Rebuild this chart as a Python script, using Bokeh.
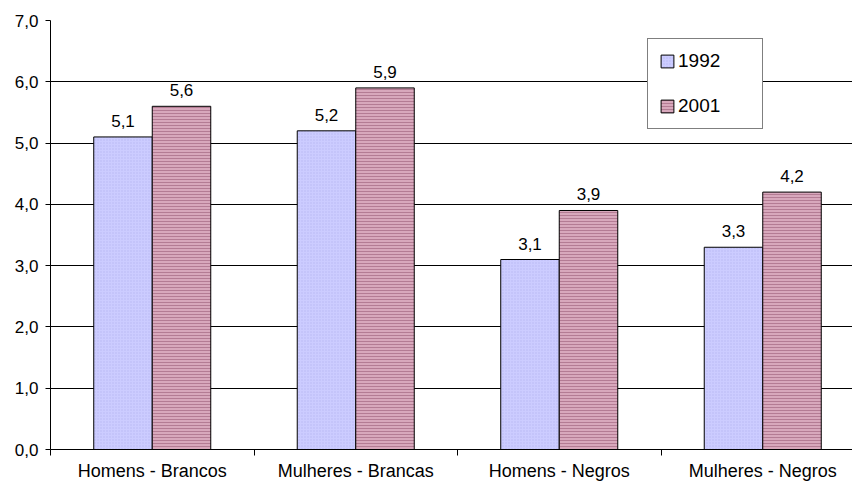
from bokeh.plotting import figure
from bokeh.models import FixedTicker, Legend, LegendItem, ColumnDataSource
from bokeh.core.properties import value
from bokeh.embed import file_html
from bokeh.resources import INLINE

categories = ["Homens - Brancos", "Mulheres - Brancas", "Homens - Negros", "Mulheres - Negros"]
series_names = ["1992", "2001"]
values_1992 = [5.1, 5.2, 3.1, 3.3]
values_2001 = [5.6, 5.9, 3.9, 4.2]
y_ticks = [0, 1, 2, 3, 4, 5, 6, 7]

FONT = "Liberation Sans"
centers = [i + 0.5 for i in range(len(categories))]
bar_w = 0.2875
off = bar_w / 2

def fmt(v):
    return f"{v:.1f}".replace(".", ",")

src1 = ColumnDataSource(dict(x=[c - off for c in centers], top=values_1992,
                             lab=[fmt(v) for v in values_1992]))
src2 = ColumnDataSource(dict(x=[c + off for c in centers], top=values_2001,
                             lab=[fmt(v) for v in values_2001]))

p = figure(width=852, height=483, x_range=(0, 3.941), y_range=(0, 7),
           output_backend="svg", toolbar_location=None,
           min_border_left=50, min_border_right=0, min_border_top=20, min_border_bottom=34)
p.outline_line_color = None
p.background_fill_color = "white"
p.border_fill_color = "white"
p.xgrid.visible = False

r1 = p.vbar(x="x", top="top", width=bar_w, source=src1, fill_color="#CCCCFF",
            line_color="black", line_width=1, hatch_pattern="dot", hatch_color="#A8A8E8",
            hatch_scale=3, hatch_weight=1, hatch_alpha=0.6)
r2 = p.vbar(x="x", top="top", width=bar_w, source=src2, fill_color="#D8A8BC",
            line_color="black", line_width=1, hatch_pattern="horizontal_line",
            hatch_color="#B07890", hatch_scale=3, hatch_weight=1, hatch_alpha=0.9)

for s in (src1, src2):
    p.text(x="x", y="top", text="lab", source=s, text_align="center",
           text_baseline="alphabetic", y_offset=-16, text_font=value(FONT),
           text_font_size="17px", text_color="black")

# y axis
p.yaxis.ticker = FixedTicker(ticks=y_ticks)
p.yaxis.major_label_overrides = {t: fmt(t) for t in y_ticks}
p.yaxis.major_label_text_font = FONT
p.yaxis.major_label_text_font_size = "17px"
p.yaxis.major_label_text_color = "black"
p.yaxis.axis_line_color = "black"
p.yaxis.major_tick_line_color = "black"
p.yaxis.major_tick_in = 0
p.yaxis.major_tick_out = 5
p.yaxis.minor_tick_line_color = None
p.yaxis.major_label_standoff = 7
p.ygrid.ticker = FixedTicker(ticks=y_ticks)
p.ygrid.grid_line_color = "black"
p.ygrid.grid_line_width = 1

# x axis
p.xaxis.ticker = FixedTicker(ticks=centers, minor_ticks=list(range(len(categories) + 1)))
p.xaxis.major_label_overrides = {c: n for c, n in zip(centers, categories)}
p.xaxis.major_label_text_font = FONT
p.xaxis.major_label_text_font_size = "18px"
p.xaxis.major_label_text_color = "black"
p.xaxis.axis_line_color = "black"
p.xaxis.major_tick_in = 0
p.xaxis.major_tick_out = 0
p.xaxis.minor_tick_in = 0
p.xaxis.minor_tick_out = 6
p.xaxis.minor_tick_line_color = "black"
p.xaxis.major_label_standoff = 5

legend = Legend(items=[LegendItem(label=series_names[0], renderers=[r1]),
                       LegendItem(label=series_names[1], renderers=[r2])],
                location=(597, 320), orientation="vertical",
                padding=11, spacing=23, glyph_width=16, glyph_height=16,
                label_height=22, label_width=73, label_standoff=3,
                label_text_font=FONT, label_text_font_size="19px",
                label_text_color="black", border_line_color="black",
                border_line_width=1, background_fill_color="white",
                background_fill_alpha=1, margin=0)
p.add_layout(legend, "center")

open("out.html", "w").write(file_html(p, INLINE))
